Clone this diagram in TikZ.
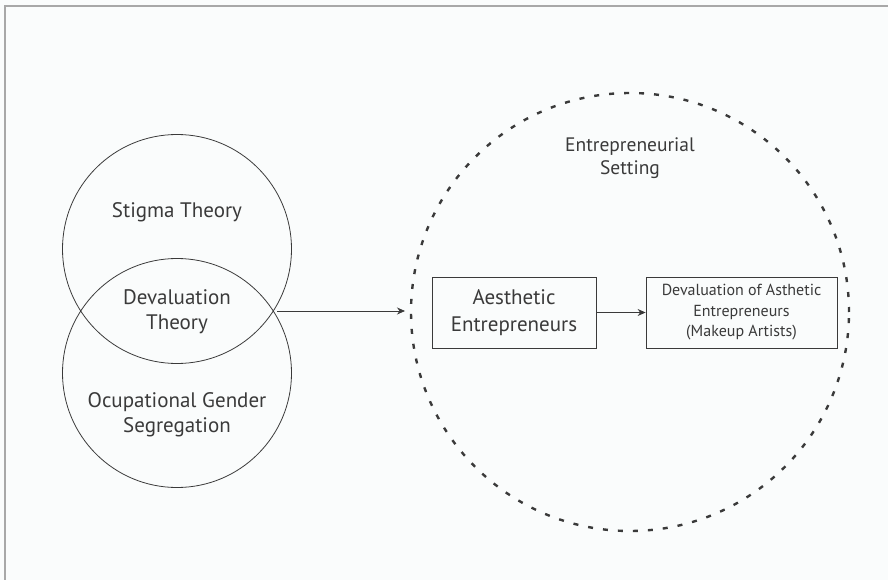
\documentclass[tikz,border=0pt]{standalone}
\usepackage{fontspec}
\setmainfont{PT Sans}
\usetikzlibrary{arrows.meta}
\definecolor{bg}{HTML}{FAFCFC}
\definecolor{ink}{HTML}{3A3A3A}
\definecolor{frame}{HTML}{A8A8A8}
\tikzset{
  theory/.style={circle, draw=ink, line width=0.8pt, minimum size=229pt, inner sep=0pt},
  setting/.style={circle, draw=ink, line width=2.4pt, dash pattern=on 5pt off 10pt, minimum size=438pt, inner sep=0pt},
  boxnode/.style={draw=ink, line width=0.8pt, align=center, inner sep=0pt, text=ink},
  lbl/.style={align=center, text=ink, font=\fontsize{21}{25}\selectfont},
  conn/.style={draw=ink, line width=0.8pt, -{Stealth[length=8pt,width=7pt]}}
}
\begin{document}
\begin{tikzpicture}[x=1pt,y=-1pt]
\path[use as bounding box, fill=bg] (0,0) rectangle (888,580);
\draw[frame, line width=2pt] (5,580) -- (5,6) -- (888,6);
\node[theory] (upper) at (177,249) {};
\node[theory] (lower) at (177,373) {};
\node[setting] (set) at (630,312) {};
\node[lbl] (stigma) at (177,212) {Stigma Theory};
\node[lbl] (deval) at (177,312) {Devaluation\\Theory};
\node[lbl] (ocup) at (177,415) {Ocupational Gender\\Segregation};
\node[lbl, font=\fontsize{19.5}{23}\selectfont] (settxt) at (630,158) {Entrepreneurial\\Setting};
\node[boxnode, minimum width=164pt, minimum height=71pt, font=\fontsize{21}{27}\selectfont] (aes) at (514,312.5) {Aesthetic\\Entrepreneurs};
\node[boxnode, minimum width=191pt, minimum height=71pt, font=\fontsize{16}{20.5}\selectfont] (dev) at (741.5,312.5) {Devaluation of Asthetic\\Entrepreneurs\\(Makeup Artists)};
\coordinate (src) at (277,311);
\coordinate (dst) at (405,311);
\draw[conn] (src) -- (dst);
\draw[conn] (aes.east) -- (dev.west);
\end{tikzpicture}
\end{document}
